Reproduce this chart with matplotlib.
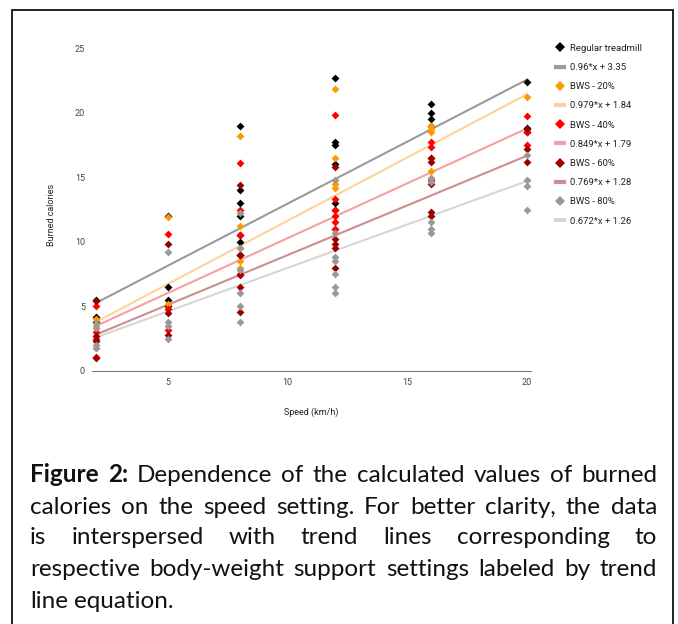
import matplotlib
matplotlib.use("Agg")
import matplotlib.pyplot as plt
from matplotlib.lines import Line2D
from matplotlib.patches import Rectangle
import numpy as np

# data
speeds = [2, 5, 8, 12, 16, 20]

regular = [[5.5, 4.2, 3.8], [12.0, 6.5, 5.5, 5.0],
           [19.0, 14.0, 13.0, 12.0, 10.5, 10.0, 9.0],
           [22.7, 17.7, 17.5, 16.0, 13.0, 12.5],
           [20.7, 20.0, 19.5, 19.0], [22.4, 18.8, 18.5]]
bws20 = [[4.0, 3.5, 1.8], [11.9, 5.2, 4.8],
         [18.2, 11.2, 9.5, 8.5, 8.0],
         [21.8, 16.5, 14.5, 14.2, 11.0],
         [19.0, 18.7, 18.5, 15.5], [21.2]]
bws40 = [[5.0, 3.0, 2.5, 1.1], [10.6, 4.8, 3.2],
         [16.1, 12.5, 10.5, 9.0, 7.5],
         [19.8, 13.3, 12.5, 12.0, 11.5, 11.0],
         [17.7, 17.3, 16.5, 14.8], [19.7, 18.5, 17.5]]
bws60 = [[5.4, 2.7, 2.3, 1.0], [9.8, 4.5, 2.8],
         [14.4, 9.0, 7.4, 6.5, 4.6],
         [15.8, 10.2, 9.8, 9.5, 8.0],
         [16.5, 16.2, 14.5, 12.3, 12.0], [18.7, 17.2, 16.2]]
bws80 = [[3.7, 3.3, 2.0, 1.8], [9.2, 3.8, 3.5, 2.5],
         [12.2, 9.5, 7.8, 6.0, 5.0, 3.8],
         [14.8, 10.7, 8.8, 8.5, 7.5, 6.5, 6.0],
         [14.9, 14.6, 11.5, 11.0, 10.7], [16.7, 14.8, 14.3, 12.5]]

series_names = ["Regular treadmill", "BWS - 20%", "BWS - 40%", "BWS - 60%", "BWS - 80%"]
slopes = [0.96, 0.979, 0.849, 0.769, 0.672]
intercepts = [3.35, 1.84, 1.79, 1.28, 1.26]
trend_labels = ["0.96*x + 3.35", "0.979*x + 1.84", "0.849*x + 1.79",
                "0.769*x + 1.28", "0.672*x + 1.26"]

point_colors = ["#000000", "#ff9900", "#ff0000", "#990000", "#999999"]
line_colors = ["#9a9a9a", "#fdd39a", "#f8a0a0", "#cc8f8f", "#d6d6d6"]

caption_lines = [
    "Figure 2: Dependence of the calculated values of burned",
    "calories on the speed setting. For better clarity, the data",
    "is interspersed with trend lines corresponding to",
    "respective body-weight support settings labeled by trend",
    "line equation.",
]

W, H = 678, 624
fig = plt.figure(figsize=(W / 100, H / 100), dpi=100)

# outer frame
fig.add_artist(Rectangle((12 / W, -0.01), 661 / W, 1 - 10 / H + 0.01,
                         transform=fig.transFigure, fill=False,
                         edgecolor="#111111", linewidth=1.3))

ax = fig.add_axes([92 / W, 1 - 371 / H, 439 / W, 323 / H])
all_series = [regular, bws20, bws40, bws60, bws80]

xs_line = np.array([2, 20])
for i in range(5):
    ax.plot(xs_line, slopes[i] * xs_line + intercepts[i], color=line_colors[i],
            linewidth=1.5, zorder=1)

for i, ser in enumerate(all_series):
    xs = []
    ys = []
    for sp, vals in zip(speeds, ser):
        xs += [sp] * len(vals)
        ys += vals
    ax.scatter(xs, ys, marker="D", s=16, color=point_colors[i],
               linewidths=0, zorder=2 + i)

ax.set_xlim(1.83, 20.17)
ax.set_ylim(0, 25)
ax.set_xticks([5, 10, 15, 20])
ax.set_yticks([0, 5, 10, 15, 20, 25])
for s in ["top", "right", "left"]:
    ax.spines[s].set_visible(False)
ax.spines["bottom"].set_color("#777777")
ax.tick_params(length=0, labelsize=6.5, labelcolor="#444444", pad=5)
for lab in ax.get_xticklabels() + ax.get_yticklabels():
    lab.set_family("Roboto")
ax.set_xlabel("Speed (km/h)", fontsize=6.5, family="Roboto", color="#222222", labelpad=15)
fig.text(52 / W, 1 - 215 / H, "Burned calories", rotation=90, fontsize=6.5,
         family="Roboto", color="#222222", ha="center", va="center")

# legend
handles = []
labels = []
for i in range(5):
    handles.append(Line2D([], [], marker="D", linestyle="none", markersize=5,
                          color=point_colors[i], markeredgewidth=0))
    labels.append(series_names[i])
    handles.append(Line2D([], [], color=line_colors[i], linewidth=3))
    labels.append(trend_labels[i])
leg = fig.legend(handles, labels, loc="upper left",
                 bbox_to_anchor=(551 / W, 1 - 39 / H), frameon=False,
                 prop={"family": "Roboto", "size": 6.8}, handlelength=0.9,
                 handletextpad=0.6, labelspacing=1.08, borderpad=0)
for t in leg.get_texts():
    t.set_color("#222222")

# justified caption
renderer = fig.canvas.get_renderer()
left_px, right_px = 30, 657
line_y = [475, 507, 538, 570, 601]
fsize = 17.5
for li, line in enumerate(caption_lines):
    words = line.split(" ")
    objs = []
    for wi, w in enumerate(words):
        bold = li == 0 and wi < 2
        t = fig.text(0, 1 - line_y[li] / H, w, fontsize=fsize, family="Lato",
                     weight="bold" if bold else "normal", va="center",
                     ha="left", color="#111111")
        objs.append(t)
    widths = [o.get_window_extent(renderer).width for o in objs]
    if li < len(caption_lines) - 1:
        gap = (right_px - left_px - sum(widths)) / (len(words) - 1)
    else:
        gap = fsize * 100 / 72 * 0.25
    x = left_px
    for o, w in zip(objs, widths):
        o.set_x(x / W)
        x += w + gap

fig.savefig("out.png", dpi=100)
